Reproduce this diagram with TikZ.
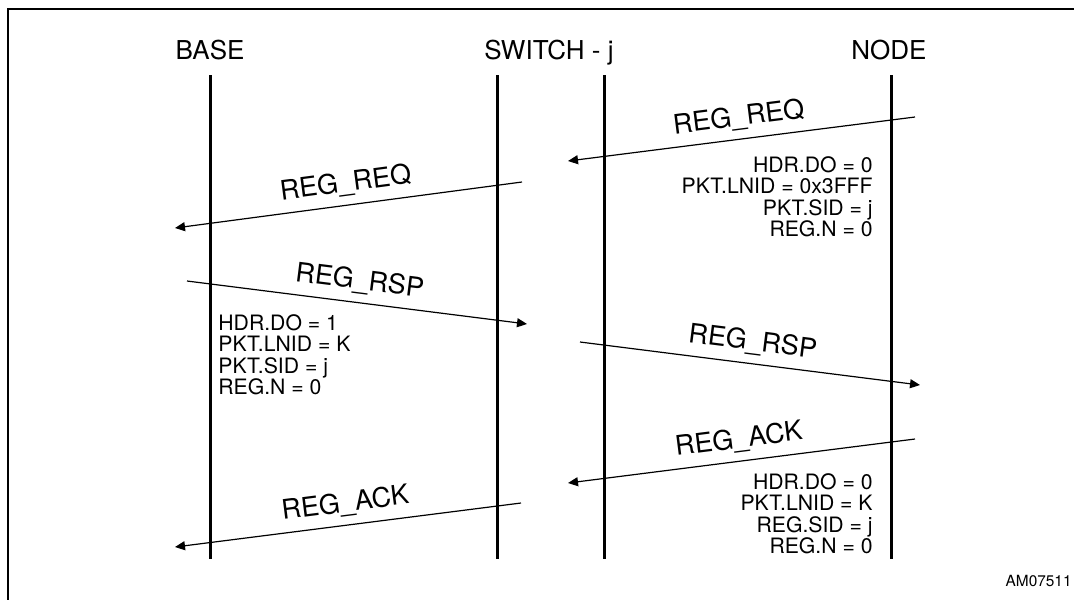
\documentclass[tikz,border=0pt]{standalone}
\usepackage{fontspec}
\setmainfont{TeX Gyre Heros}
\usetikzlibrary{arrows.meta,positioning}
\begin{document}
\begin{tikzpicture}[x=0.5pt,y=-0.5pt,
  life/.style={line width=1.5pt},
  msg/.style={line width=0.6pt,-{Triangle[length=5pt,width=4.5pt]}},
  head/.style={font=\fontsize{13}{15}\selectfont,anchor=base,inner sep=0pt},
  mlab/.style={font=\fontsize{13.5}{15}\selectfont,midway,above,sloped,inner sep=4pt},
  info/.style={font=\fontsize{10.6}{10.7}\selectfont,inner sep=0pt}]
\useasboundingbox (0,0) rectangle (1074,600);
% frame
\draw[line width=1.2pt] (1074,9) -- (8,9) -- (8,600);
% heads
\node[head] (base) at (210,59) {BASE};
\node[head] (switch) at (549,59) {SWITCH - j};
\node[head] (node) at (889,59) {NODE};
% lifelines
\foreach \n/\x in {b/210,sl/497,sr/604,n/891}{
  \coordinate (\n top) at (\x,75);
  \coordinate (\n bot) at (\x,559);
  \draw[life] (\n top) -- (\n bot);
}
% message ends
\coordinate (m1s) at (915,117); \coordinate (m1e) at (568,161);
\coordinate (m2s) at (522,182); \coordinate (m2e) at (175,228);
\coordinate (m3s) at (187,281); \coordinate (m3e) at (527,324);
\coordinate (m4s) at (580,342); \coordinate (m4e) at (920,385);
\coordinate (m5s) at (915,439); \coordinate (m5e) at (568,483);
\coordinate (m6s) at (521,503); \coordinate (m6e) at (175,547);
% messages
\draw[msg] (m1s) -- node[mlab] {REG\_REQ} (m1e);
\draw[msg] (m2s) -- node[mlab] {REG\_REQ} (m2e);
\draw[msg] (m3s) -- node[mlab] {REG\_RSP} (m3e);
\draw[msg] (m4s) -- node[mlab] {REG\_RSP} (m4e);
\draw[msg] (m5s) -- node[mlab] {REG\_ACK} (m5e);
\draw[msg] (m6s) -- node[mlab] {REG\_ACK} (m6e);
% packet fields
\node[info,anchor=north east,align=right] (req) at (873,156)
  {HDR.DO = 0\\PKT.LNID = 0x3FFF\\PKT.SID = j\\REG.N = 0};
\node[info,anchor=north west,align=left] (rsp) at (218,314)
  {HDR.DO = 1\\PKT.LNID = K\\PKT.SID = j\\REG.N = 0};
\node[info,anchor=north east,align=right] (ack) at (873,473)
  {HDR.DO = 0\\PKT.LNID = K\\REG.SID = j\\REG.N = 0};
\node[font=\fontsize{7.7}{9}\selectfont,anchor=base east,inner sep=0pt] (fig) at (1072,586) {AM07511};
\end{tikzpicture}
\end{document}
